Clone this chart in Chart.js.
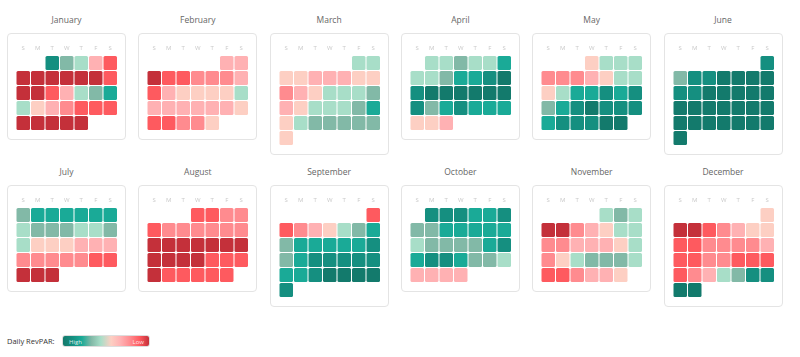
<!DOCTYPE html>
<html><head><meta charset="utf-8">
<script src="https://cdn.jsdelivr.net/npm/chart.js@4.4.1/dist/chart.umd.min.js"></script>
<style>
html,body{margin:0;padding:0;background:#fff;width:800px;height:357px;overflow:hidden;font-family:"Open Sans",sans-serif;}
.title{position:absolute;width:119px;text-align:center;font-size:8.5px;color:#666;line-height:10px;}
.card{position:absolute;width:119px;box-sizing:border-box;border:1px solid #e4e4e4;border-radius:4px;background:#fff;}
.card canvas{position:absolute;left:0;top:0;}
.legend-label{position:absolute;left:7px;top:336px;font-size:7.5px;color:#333;line-height:10px;}
.legend-bar{position:absolute;left:62px;top:335px;width:88px;height:12px;border-radius:3px;box-sizing:border-box;border:1px solid #ddd;}
.legend-bar span{position:absolute;top:1.5px;font-size:6px;line-height:8px;color:rgba(255,255,255,0.85);}
</style></head><body>
<div id="root"></div>
<script>
// ---- data ----
const monthNames = ['January','February','March','April','May','June','July','August','September','October','November','December'];
const weekdayLabels = ['S','M','T','W','T','F','S'];
const firstWeekday = [2,5,5,1,3,6,0,3,6,1,4,6];
// daily RevPAR level: 0 = lowest (dark red) ... 9 = highest (dark teal)
const janLevels = [8,6,5,3,1, 0,0,0,0,0,0,1, 0,0,1,3,5,6,7, 5,4,3,2,1,1,1, 0,0,0,0,0];
const febLevels = [3,3, 0,1,1,2,2,2,3, 1,3,4,4,4,4,5, 3,3,3,3,3,3,4, 1,1,2,2,4];
const marLevels = [5,5, 4,4,3,3,3,4,4, 2,3,4,5,5,5,6, 3,4,5,5,5,6,7, 4,5,6,6,6,6,6, 4];
const aprLevels = [5,5,6,5,5,7, 5,5,6,7,7,8,9, 8,9,9,9,9,9,9, 8,6,7,8,7,7,7, 4,4,3];
const mayLevels = [4,5,5,5, 2,2,2,3,4,5,5, 4,5,7,7,8,7,8, 6,7,8,9,8,8,8, 7,8,8,8,9,9];
const junLevels = [8, 6,8,8,9,9,9,9, 8,8,9,9,9,9,9, 9,9,9,9,9,9,9, 9,9,9,9,9,9,9, 9];
const julLevels = [6,7,7,7,7,7,7, 5,6,6,6,5,5,6, 5,4,4,4,3,3,3, 2,2,2,2,2,1,1, 0,0,0];
const augLevels = [1,1,2,2, 1,2,2,2,2,2,2, 0,0,0,0,0,0,0, 0,0,0,0,1,1,1, 0,1,1,1,1,1];
const sepLevels = [1, 1,2,3,4,5,6,7, 6,7,7,7,7,7,8, 6,7,8,8,8,8,8, 7,7,8,9,9,9,9, 8];
const octLevels = [8,8,8,7,7,8, 6,6,7,7,7,7,7, 5,6,6,6,6,7,8, 7,8,8,7,6,6,5, 3,3,3,3];
const novLevels = [5,6,5, 0,0,2,3,4,5,5, 2,2,3,3,3,4,5, 2,4,5,6,6,6,5, 1,1,2,3,3,4];
const decLevels = [4, 0,0,1,2,3,4,4, 1,1,2,2,2,2,3, 1,1,2,2,1,1,1, 1,2,3,5,6,8,8, 9,9];
const monthLevels = [janLevels,febLevels,marLevels,aprLevels,mayLevels,junLevels,julLevels,augLevels,sepLevels,octLevels,novLevels,decLevels];
const levelColors = ['#c4303a','#fe5a5f','#ff8b8f','#ffb1b3','#fdcfc3','#a8dec8','#82b9a7','#1aaa97','#158f80','#137a6c'];
const legendTitle = 'Daily RevPAR:';
const legendEnds = ['High','Low'];

// ---- layout ----
const root = document.getElementById('root');
const CARD_W = 119, PITCH_X = 131.3, ROW_H = 14.6;
monthNames.forEach((name, m) => {
  const col = m % 6, band = Math.floor(m / 6);
  const left = 7 + col * PITCH_X;
  const top = band ? 185 : 33;
  const levels = monthLevels[m];
  const first = firstWeekday[m];
  const rows = Math.ceil((first + levels.length) / 7);
  const H = 25 + rows * ROW_H + 9;

  const t = document.createElement('div');
  t.className = 'title'; t.textContent = name;
  t.style.left = left + 'px'; t.style.top = (top - 18) + 'px';
  root.appendChild(t);

  const card = document.createElement('div');
  card.className = 'card';
  card.style.left = left + 'px'; card.style.top = top + 'px'; card.style.height = H + 'px';
  const cv = document.createElement('canvas');
  cv.width = CARD_W - 2; cv.height = Math.round(H - 2);
  cv.style.width = (CARD_W - 2) + 'px'; cv.style.height = Math.round(H - 2) + 'px';
  card.appendChild(cv);
  root.appendChild(card);

  const datasets = [];
  for (let w = 0; w < rows; w++) {
    const data = [], colors = [];
    for (let d = 0; d < 7; d++) {
      const idx = w * 7 + d - first;
      if (idx >= 0 && idx < levels.length) {
        data.push([w + 0.035, w + 0.965]);
        colors.push(levelColors[levels[idx]]);
      } else { data.push(null); colors.push('rgba(0,0,0,0)'); }
    }
    datasets.push({data, backgroundColor: colors, grouped: false, categoryPercentage: 1, barPercentage: 0.93, borderRadius: 1.5, borderSkipped: false, borderWidth: 0});
  }

  new Chart(cv, {
    type: 'bar',
    data: {labels: weekdayLabels, datasets},
    options: {
      responsive: false, animation: false, devicePixelRatio: 1,
      layout: {padding: {left: 8, right: 7.5, top: 6.4, bottom: H - 2 - 23.5 - rows * ROW_H}},
      plugins: {legend: {display: false}, tooltip: {enabled: false}},
      scales: {
        x: {position: 'top', grid: {display: false, drawTicks: false, tickLength: 0}, border: {display: false},
            ticks: {color: '#c9c9c9', font: {size: 6, family: 'Open Sans'}, padding: 4, maxRotation: 0, autoSkip: false}},
        y: {display: false, min: 0, max: rows, reverse: true}
      }
    }
  });
});

// ---- legend ----
const lt = document.createElement('div');
lt.className = 'legend-label'; lt.textContent = legendTitle; root.appendChild(lt);
const lb = document.createElement('div');
lb.className = 'legend-bar';
lb.style.background = 'linear-gradient(to right,' + levelColors.slice().reverse().map((c, i) => c + ' ' + Math.round(i / 9 * 100) + '%').join(',') + ')';
const hi = document.createElement('span'); hi.textContent = legendEnds[0]; hi.style.left = '6px';
const lo = document.createElement('span'); lo.textContent = legendEnds[1]; lo.style.right = '5px';
lb.appendChild(hi); lb.appendChild(lo); root.appendChild(lb);
</script>
</body></html>
